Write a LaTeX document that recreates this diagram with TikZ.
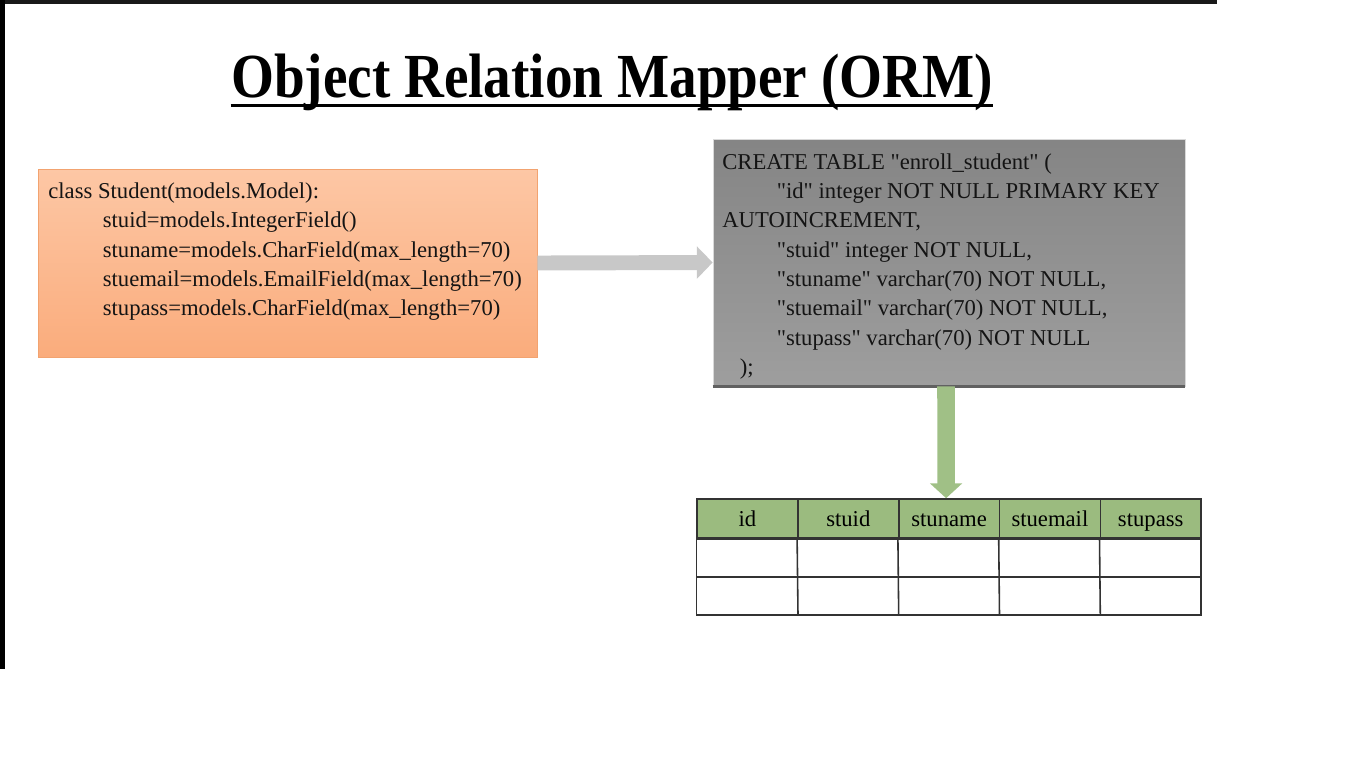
\documentclass[tikz,border=0pt]{standalone}
\usepackage{fontspec}
\setmainfont{Liberation Serif}[Ligatures=TeXOff]
\usepackage{graphicx}
\usetikzlibrary{arrows.meta}

\newcommand{\pxl}{0.02cm}
\newcommand{\dq}{\symbol{34}}
\definecolor{peachtop}{RGB}{253,199,165}
\definecolor{peachbot}{RGB}{250,172,124}
\definecolor{peachline}{RGB}{242,163,112}
\definecolor{headgreen}{RGB}{155,187,127}
\definecolor{arrowgreen}{RGB}{160,192,134}
\definecolor{arrowgray}{RGB}{200,200,200}

\begin{document}
\begin{tikzpicture}[x=0.02cm, y=-0.02cm]
  \tikzstyle{code}=[inner sep=0pt, align=left, text=black!92, font=\fontsize{12.9pt}{16.7pt}\selectfont]
  \tikzstyle{model}=[draw=peachline, top color=peachtop, bottom color=peachbot, inner sep=0pt]
  \tikzstyle{sql}=[draw=black!15, top color=black!48, bottom color=black!38, inner sep=0pt]
  \tikzstyle{head}=[draw=black!80, line width=0.9pt, fill=headgreen, inner sep=0pt,
    minimum width=100.8*\pxl, minimum height=39*\pxl, text height=10.1pt, text depth=0.7pt,
    font=\fontsize{12.9pt}{16.7pt}\selectfont]
  \tikzstyle{grid}=[draw=black!80, line width=0.9pt]
  \tikzstyle{block}=[line width=8.5pt]

  \useasboundingbox (0,0) rectangle (1366,768);

  % frame of the slide
  \fill[black!90] (0,0) rectangle (1217,4);
  \fill[black] (0,0) rectangle (5,669);

  % title
  \node[inner sep=0pt, font=\fontsize{35.7pt}{40pt}\selectfont\bfseries, anchor=base] (title) at (612,97)
    {\scalebox{0.88}[1]{Object Relation Mapper (ORM)}};
  \draw[line width=1.7pt] ([yshift=-4.6pt]title.base west) -- ([yshift=-4.6pt]title.base east);

  % boxes
  \node[model, minimum width=499*\pxl, minimum height=188*\pxl] (class) at (287.5,263) {};
  \node[sql, minimum width=472*\pxl, minimum height=247*\pxl] (create) at (949,262.5) {};
  \draw[black!62, line width=1.4pt] (create.south west) -- (create.south east);

  \node[code, anchor=north west] (classtext) at (48,182.5) {class Student(models.Model):\\
    \hspace*{31pt}stuid=models.IntegerField()\\
    \hspace*{31pt}stuname=models.CharField(max\_length=70)\\
    \hspace*{31pt}stuemail=models.EmailField(max\_length=70)\\
    \hspace*{31pt}stupass=models.CharField(max\_length=70)};

  \node[code, anchor=north west] (createtext) at (722,153) {CREATE TABLE \dq enroll\_student\dq{} (\\
    \hspace*{31pt}\dq id\dq{} integer NOT NULL PRIMARY KEY\\
    AUTOINCREMENT,\\
    \hspace*{31pt}\dq stuid\dq{} integer NOT NULL,\\
    \hspace*{31pt}\dq stuname\dq{} varchar(70) NOT NULL,\\
    \hspace*{31pt}\dq stuemail\dq{} varchar(70) NOT NULL,\\
    \hspace*{31pt}\dq stupass\dq{} varchar(70) NOT NULL\\
    \hspace*{10pt});};

  % table
  \node[head] (id)       at (747.5,518.5)  {id};
  \node[head] (stuid)    at (848.3,518.5)  {stuid};
  \node[head] (stuname)  at (949.1,518.5)  {stuname};
  \node[head] (stuemail) at (1049.9,518.5) {stuemail};
  \node[head] (stupass)  at (1150.7,518.5) {stupass};

  \draw[grid] (id.south west) rectangle (1201.1,615);
  \draw[grid] (697.1,577) -- (1201.1,577);
  \draw[grid] (stuid.south west) -- (798,615);
  \draw[grid] (stuname.south west) -- (898.7,615);
  \draw[grid] (stuemail.south west) -- (999.5,615);
  \draw[grid] (stupass.south west) -- (1100.3,615);

  % arrows
  \draw[block, arrowgray, -{Triangle[width=18pt, length=9pt]}] (class.east) -- (create.west);
  \draw[block, line width=10pt, arrowgreen, -{Triangle[width=18pt, length=8.5pt]}] ([xshift=-1.7pt]create.south) -- ([xshift=-1.7pt]stuname.north);
\end{tikzpicture}
\end{document}
